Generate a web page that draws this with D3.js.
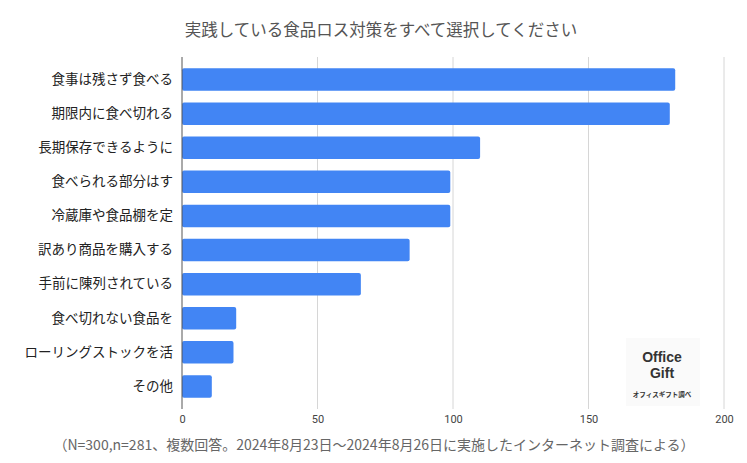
<!DOCTYPE html>
<html><head><meta charset="utf-8">
<script src="https://cdn.jsdelivr.net/npm/d3@7/dist/d3.min.js"></script>
<style>body{margin:0;background:#fff;}svg{display:block;}</style>
</head><body>
<script>
const title = "実践している食品ロス対策をすべて選択してください";
const categories = ["食事は残さず食べる","期限内に食べ切れる","長期保存できるように","食べられる部分はす","冷蔵庫や食品棚を定","訳あり商品を購入する","手前に陳列されている","食べ切れない食品を","ローリングストックを活","その他"];
const values = [182,180,110,99,99,84,66,20,19,11];
const ticks = [0,50,100,150,200];
const footnote = "（N=300,n=281、複数回答。2024年8月23日～2024年8月26日に実施したインターネット調査による）";

const W=747,H=463;
const svg=d3.select("body").append("svg").attr("width",W).attr("height",H);
const font="'Noto Sans CJK JP','Noto Sans',sans-serif";
const x=d3.scaleLinear().domain([0,200]).range([182,724]);
const y=d3.scaleBand().domain(categories).range([62.5,403.5]).paddingInner(0.34).paddingOuter(0.17);

// gridlines
svg.append("g").selectAll("line").data(ticks.slice(1)).join("line")
 .attr("x1",d=>x(d)).attr("x2",d=>x(d)).attr("y1",57).attr("y2",409)
 .attr("stroke","#d6d6d6").attr("stroke-width",1);

// bars
svg.append("g").selectAll("rect").data(values).join("rect")
 .attr("x",x(0)).attr("y",(d,i)=>y(categories[i]))
 .attr("width",d=>x(d)-x(0)).attr("height",y.bandwidth())
 .attr("rx",2).attr("fill","#4285F4");

// zero axis
svg.append("line").attr("x1",x(0)).attr("x2",x(0)).attr("y1",57).attr("y2",409)
 .attr("stroke","#555").attr("stroke-width",1);

// category labels
const yAxis=d3.axisLeft(y).tickSize(0).tickPadding(9);
const ya=svg.append("g").attr("transform",`translate(${x(0)},0)`).call(yAxis);
ya.select(".domain").remove();
ya.selectAll("text").attr("font-family",font).attr("font-size",13.5).attr("fill","#222");

// x tick labels
const xAxis=d3.axisBottom(x).tickValues(ticks).tickSize(0).tickPadding(0);
const xa=svg.append("g").attr("transform",`translate(0,415)`).call(xAxis);
xa.select(".domain").remove();
xa.selectAll("text").attr("font-family","Roboto,sans-serif").attr("font-size",11).attr("fill","#444");

// title
svg.append("text").attr("x",381).attr("y",36).attr("text-anchor","middle")
 .attr("font-family",font).attr("font-size",16.5).attr("fill","#555").text(title);

// footnote
svg.append("text").attr("x",374).attr("y",450).attr("text-anchor","middle")
 .attr("font-family",font).attr("font-size",14).attr("fill","#666").text(footnote);

// logo
const lg=svg.append("g");
lg.append("rect").attr("x",626).attr("y",338).attr("width",74).attr("height",68).attr("fill","#fafafa");
lg.append("text").attr("x",662).attr("y",362).attr("text-anchor","middle").attr("font-family","Arial,'Liberation Sans',sans-serif").attr("font-weight","bold").attr("font-size",14).attr("fill","#333").text("Office");
lg.append("text").attr("x",662).attr("y",378).attr("text-anchor","middle").attr("font-family","Arial,'Liberation Sans',sans-serif").attr("font-weight","bold").attr("font-size",14).attr("fill","#333").text("Gift");
lg.append("text").attr("x",662).attr("y",397).attr("text-anchor","middle").attr("font-family",font).attr("font-weight","bold").attr("font-size",6.5).attr("fill","#333").text("オフィスギフト調べ");
</script>
</body></html>
